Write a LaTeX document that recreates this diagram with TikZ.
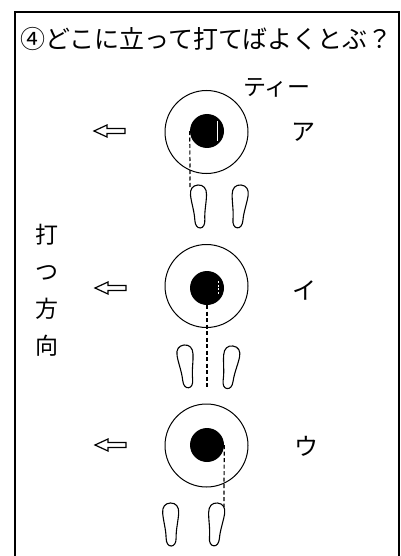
\documentclass[tikz,border=0pt]{standalone}
\usepackage{fontspec}
\newfontfamily\jp{Noto Sans CJK JP}
\begin{document}
\begin{tikzpicture}[x=1pt,y=-1pt,
  frame/.style={line width=1.4pt},
  tee/.style={circle,draw,line width=1pt,minimum size=83pt,inner sep=0pt},
  ball/.style={circle,fill=black,minimum size=34pt,inner sep=0pt},
  aim/.style={dash pattern=on 4pt off 2.5pt, line width=1.2pt},
  lbl/.style={font=\jp\fontsize{24}{24}\selectfont, inner sep=0pt},
  foot/.style={line width=1.1pt},
  footpic/.pic={\draw[foot] (0,0) .. controls (5.5,0) and (8.5,4) .. (8,10) .. controls (7.5,18) and (5,26) .. (5,35) .. controls (5,40) and (3,43) .. (0,43) .. controls (-3,43) and (-5,40) .. (-5,35) .. controls (-5,26) and (-7.5,18) .. (-8,10) .. controls (-8.5,4) and (-5.5,0) .. (0,0) -- cycle;},
  arrowpic/.pic={\draw[line width=1.2pt,line join=miter] (0,0) -- (13,-6) -- (13,-2.5) -- (31,-2.5) -- (31,2.5) -- (13,2.5) -- (13,6) -- cycle;}
]
\useasboundingbox (0,0) rectangle (400,556);
% frame
\draw[frame] (15,556) -- (15,12) -- (399,12) -- (399,556);
% title
\node[anchor=west, inner sep=0pt, font=\jp\fontsize{25}{25}\selectfont] (title) at (20,39) {④どこに立って打てばよくとぶ？};
% side label
\node[align=center, inner sep=0pt, font=\jp\fontsize{23}{37}\selectfont] (dir) at (47,290) {打\\つ\\方\\向};
% tee label
\node[lbl, font=\jp\fontsize{23}{23}\selectfont] (teelbl) at (277,88) {ティー};

% ---- row A ----
\node[tee] (tA) at (206.5,132) {};
\node[ball] (bA) at (207,131) {};
\draw[white, line width=0.5pt] (217,121) -- (217,141);
\coordinate (eA) at (190,188);
\draw[aim] (bA.west) -- (eA);
\pic[rotate=3] at (198,185) {footpic};
\pic[rotate=-5] at (241,185) {footpic};
\pic at (94,131) {arrowpic};
\node[lbl] (lA) at (303,132) {ア};

% ---- row B ----
\node[tee] (tB) at (206.5,286) {};
\node[ball] (bB) at (207,288) {};
\draw[white, line width=0.5pt, dash pattern=on 2pt off 1.5pt] (218,281) -- (218,294);
\coordinate (eB) at (207,388);
\draw[aim] (bB.south) -- (eB);
\pic[rotate=6] at (184,345) {footpic};
\pic[rotate=-8] at (233,346) {footpic};
\pic at (95,288) {arrowpic};
\node[lbl] (lB) at (304,290) {イ};

% ---- row C ----
\node[tee] (tC) at (206.5,445.5) {};
\node[ball] (bC) at (207,445) {};
\coordinate (eC) at (224,507);
\draw[aim] (bC.east) -- (eC);
\pic[rotate=1] at (170.5,503) {footpic};
\pic[rotate=-5] at (217.5,503) {footpic};
\pic at (95,445) {arrowpic};
\node[lbl] (lC) at (306,446) {ウ};
\end{tikzpicture}
\end{document}
